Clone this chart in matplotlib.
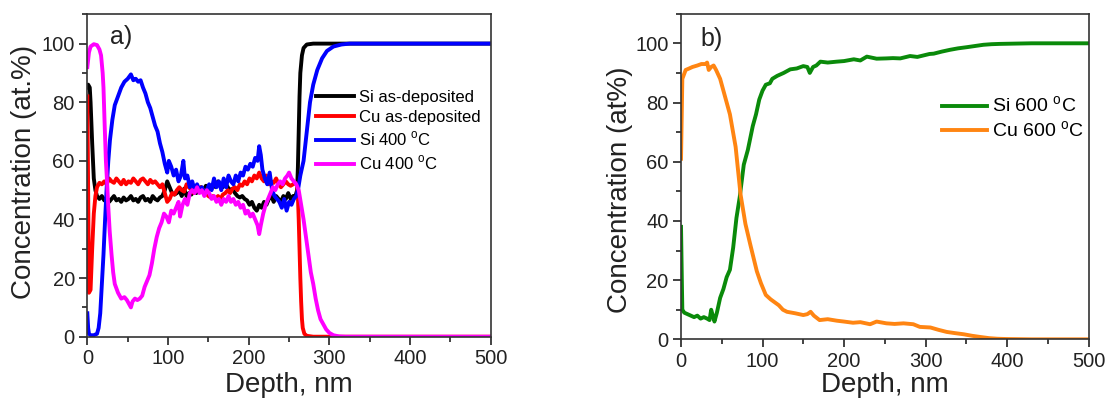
import matplotlib
matplotlib.use("Agg")
import matplotlib.pyplot as plt
from matplotlib.ticker import MultipleLocator

plt.rcParams['font.family'] = ['Liberation Sans', 'DejaVu Sans']
plt.rcParams['mathtext.fontset'] = 'custom'
plt.rcParams['mathtext.rm'] = 'Liberation Sans'

# ---------------- Panel a data ----------------
si_asdep_x = [0, 1, 3, 4, 5, 6, 7, 8, 10, 12, 15, 18, 21, 24, 27, 30, 33, 36, 39, 42, 45, 48, 51, 54, 57,
              60, 63, 66, 69, 72, 75, 78, 81, 84, 87, 90, 93, 96, 99, 102, 105, 108, 111, 114, 117, 120,
              123, 126, 129, 132, 135, 138, 141, 144, 147, 150, 153, 156, 159, 162, 165, 168, 171, 174,
              177, 180, 183, 186, 189, 192, 195, 198, 201, 204, 207, 210, 213, 216, 219, 222, 225, 228,
              231, 234, 237, 240, 243, 246, 249, 252, 255, 258, 260, 261, 262, 263, 264, 266, 268, 272,
              280, 300, 400, 500]
si_asdep_y = [85, 86, 85, 80, 73, 66, 60, 54, 50, 48, 47, 48, 46.5, 47.5, 46, 47, 48, 46.5, 47, 46, 47.5,
              46.5, 47, 48, 46.5, 47, 46, 47.5, 48, 46.5, 47, 46, 48, 47, 46.5, 47.5, 48, 50, 53, 51, 49,
              48.5, 49, 50, 48, 50.5, 48, 49, 48.5, 50, 49, 50, 51, 50, 51.5, 50, 51, 52, 51, 53, 52, 51,
              52.5, 51, 50, 50.5, 49, 48, 47.5, 48, 47, 46.5, 45, 46, 44, 43, 45, 44, 46, 45, 47, 48, 46,
              48, 47, 46, 48, 47, 49, 47, 48, 48, 50, 58, 70, 82, 90, 96, 98.5, 99.7, 100, 100, 100, 100]

cu_asdep_x = [0, 1, 2, 4, 6, 8, 10, 12, 15, 18, 21, 24, 27, 30, 33, 36, 39, 42, 45, 48, 51, 54, 57, 60,
              63, 66, 69, 72, 75, 78, 81, 84, 87, 90, 93, 96, 99, 102, 105, 108, 111, 114, 117, 120, 123,
              126, 129, 132, 135, 138, 141, 144, 147, 150, 153, 156, 159, 162, 165, 168, 171, 174, 177,
              180, 183, 186, 189, 192, 195, 198, 201, 204, 207, 210, 213, 216, 219, 222, 225, 228, 231,
              234, 237, 240, 243, 246, 249, 252, 255, 258, 260, 261, 262, 263, 264, 265, 266, 267, 269,
              272, 280, 300, 400, 500]
cu_asdep_y = [82, 50, 15, 16, 30, 42, 48, 51, 52.5, 52, 53, 52, 54, 53, 52.5, 54, 53, 52, 53.5, 52, 53,
              52.5, 54, 53, 52, 53.5, 54, 53, 52, 53.5, 52.5, 53, 52, 51, 52, 49, 46, 47, 49, 48.5, 50,
              51, 50, 49.5, 52, 51, 50, 49, 50.5, 50, 51, 50, 49, 48, 47.5, 48, 47, 48, 47, 48.5, 49,
              50, 49, 50.5, 51, 50, 52, 51.5, 53, 52, 54, 53, 55, 54, 56, 54, 53, 55, 52, 53, 52.5, 54,
              52, 51, 52, 53, 52, 51.5, 52, 52.5, 52, 48, 40, 30, 20, 12, 6, 3, 1, 0.3, 0, 0, 0, 0]

si_400_x = [0, 1, 2, 4, 8, 12, 14, 16, 18, 20, 22, 24, 26, 28, 31, 34, 38, 42, 46, 50, 54, 57, 60, 63,
            66, 69, 72, 75, 78, 81, 84, 87, 90, 93, 96, 99, 101, 104, 107, 110, 113, 116, 119, 121, 124,
            127, 130, 133, 136, 139, 142, 145, 148, 151, 154, 157, 160, 163, 166, 169, 172, 175, 178,
            181, 184, 187, 190, 193, 196, 199, 202, 205, 208, 211, 213, 215, 217, 220, 223, 226, 229,
            232, 235, 238, 241, 244, 247, 250, 253, 256, 259, 261, 264, 268, 272, 276, 280, 285, 291,
            297, 305, 315, 325, 400, 500]
si_400_y = [8, 3, 1, 0.5, 0.5, 1, 3, 8, 18, 28, 40, 51, 60, 67, 74, 79, 82, 85, 87, 88, 89.5, 87.5, 88,
            87, 87.5, 85, 83, 80, 78, 75, 72, 70, 66, 63, 59, 56, 60, 58, 55, 57, 53, 55, 60, 54, 55, 51,
            53, 50, 52, 50, 51, 49, 50, 52, 50, 54, 51, 53, 50, 54, 51, 55, 53, 52, 55, 53, 56, 55, 58,
            57, 59, 58, 61, 60, 65, 62, 57, 54, 52, 56, 50, 48, 47, 46, 44, 47, 43, 46, 45, 47, 48, 50,
            55, 60, 70, 80, 86, 91, 95, 97.5, 99, 99.7, 100, 100, 100]

cu_400_x = [0, 2, 4, 8, 12, 15, 17, 19, 20, 21.5, 23, 24.8, 26, 27.7, 30, 32, 34, 38, 42, 46, 49, 52,
            54, 56, 59, 62, 65, 68, 71, 74, 77, 80, 83, 86, 89, 92, 95, 98, 101, 104, 107, 110, 113,
            115, 118, 121, 124, 127, 130, 133, 136, 139, 142, 145, 148, 151, 154, 157, 160, 163, 166,
            169, 172, 175, 178, 181, 184, 187, 190, 193, 196, 199, 202, 205, 208, 211, 213, 215, 218,
            221, 224, 227, 230, 233, 236, 239, 242, 245, 248, 250, 253, 256, 259, 262, 265, 268, 271,
            274, 277, 280, 283, 286, 289, 292, 296, 300, 305, 312, 320, 400, 500]
cu_400_y = [92, 97, 99, 99.8, 99.5, 98, 96, 90, 85, 72, 60, 51, 44, 36, 28, 22, 18, 15, 13, 13.5, 12.5,
            11, 10, 12, 13, 12.5, 13, 14, 17, 19, 21, 25, 30, 34, 37, 39, 42, 41, 39, 43, 42, 44, 46,
            41, 45, 47, 45, 49, 50, 49, 51, 49, 50, 48, 50, 49, 47, 48, 46, 47, 45, 47, 46, 48, 46, 47,
            45, 46, 44, 45, 42, 43, 41, 42, 40, 38, 35, 38, 42, 45, 47, 49, 51, 50, 52, 53, 52, 54, 55,
            56, 54, 53, 52, 50, 45, 40, 34, 28, 22, 18, 13, 9, 6, 4.5, 2.5, 1.3, 0.5, 0.1, 0, 0, 0]

# ---------------- Panel b data ----------------
si_600_x = [0, 1, 1.6, 4, 8, 12, 16, 20, 24, 28, 32, 35, 37, 39, 41, 44, 48, 52, 56, 60, 64, 68, 72, 77,
            82, 88, 92, 96, 100, 104, 109, 112, 118, 126, 134, 142, 150, 155, 158, 162, 166, 171, 180,
            191, 200, 212, 220, 228, 240, 252, 260, 269, 281, 290, 305, 310, 320, 330, 340, 351, 361,
            371, 381, 391, 410, 430, 473, 500]
si_600_y = [38, 20, 10, 9, 8.5, 8, 7.5, 8, 7, 7.5, 7, 6.5, 10, 8, 6, 9, 14, 17, 21, 23.5, 31, 41, 48,
            59, 64, 72, 76, 81, 84, 86, 86.5, 88, 89, 90, 91.2, 91.5, 92.3, 92, 90, 92, 92.5, 93.8, 93.5,
            93.8, 94, 94.6, 94.2, 95.5, 94.8, 94.9, 95, 94.9, 95.7, 95.4, 96.4, 96.5, 97.2, 97.8, 98.3,
            98.7, 99.1, 99.5, 99.7, 99.8, 99.9, 100, 100, 100]

cu_600_x = [0, 1.6, 5.7, 10, 14, 20, 25, 30, 32, 34, 37, 40, 43, 48, 54, 60, 67, 73, 79, 85, 93, 98,
            104, 110, 115, 120, 125, 130, 140, 150, 155, 159, 163, 170, 180, 191, 200, 211, 220, 232,
            240, 252, 262, 273, 285, 293, 306, 316, 326, 336, 347, 357, 367, 378, 388, 400, 430, 500]
cu_600_y = [61, 88, 91, 91.5, 92, 92.5, 93, 93, 93.5, 91, 92, 92.5, 91, 88, 82, 76, 65, 49, 39, 32, 23,
            19, 15, 13.5, 12.5, 11.5, 10, 9.3, 8.8, 8.2, 8.5, 9.3, 8, 6.5, 6.8, 6.3, 6, 5.6, 5.8, 5.1,
            6, 5.4, 5.2, 5.4, 5.1, 4.2, 4, 3.2, 2.5, 2.1, 1.7, 1.2, 0.8, 0.4, 0.2, 0.1, 0, 0]

fig = plt.figure(figsize=(11.07, 4.03), dpi=100)
ax1 = fig.add_axes([0.0789, 0.1645, 0.3644, 0.800])
ax2 = fig.add_axes([0.6152, 0.158, 0.3681, 0.808])

lw = 2.8
deg = r'$^{\mathregular{o}}$C'
ax1.plot(si_asdep_x, si_asdep_y, color='black', lw=lw, label='Si as-deposited')
ax1.plot(cu_asdep_x, cu_asdep_y, color='#ff0000', lw=lw, label='Cu as-deposited')
ax1.plot(si_400_x, si_400_y, color='#0000ff', lw=lw, label='Si 400 ' + deg)
ax1.plot(cu_400_x, cu_400_y, color='#ff00ff', lw=lw, label='Cu 400 ' + deg)

ax2.plot(si_600_x, si_600_y, color='#0a8a0a', lw=lw, label='Si 600 ' + deg)
ax2.plot(cu_600_x, cu_600_y, color='#ff8512', lw=lw, label='Cu 600 ' + deg)

for ax in (ax1, ax2):
    ax.set_xlim(0, 500)
    ax.set_ylim(0, 110)
    ax.xaxis.set_major_locator(MultipleLocator(100))
    ax.xaxis.set_minor_locator(MultipleLocator(50))
    ax.yaxis.set_major_locator(MultipleLocator(20))
    ax.yaxis.set_minor_locator(MultipleLocator(10))
    ax.tick_params(which='major', direction='out', length=6, width=1.2, labelsize=14.5, pad=3,
                   top=False, right=False, colors='#222222', labelcolor='#222222')
    ax.tick_params(which='minor', direction='out', length=3.5, width=1.2, top=False, right=False,
                   colors='#222222')
    for s in ax.spines.values():
        s.set_linewidth(1.2)
        s.set_color('#333333')
    ax.set_xlabel('Depth, nm', fontsize=20, color='#222222')

ax1.set_ylabel('Concentration (at.%)', fontsize=20, color='#222222')
ax2.set_ylabel('Concentration (at%)', fontsize=20, color='#222222')
ax1.yaxis.set_label_coords(-0.125, 0.51)
ax2.yaxis.set_label_coords(-0.118, 0.46)
ax1.xaxis.set_label_coords(0.5, -0.109)
ax2.xaxis.set_label_coords(0.5, -0.100)

ax1.text(0.056, 0.967, 'a)', transform=ax1.transAxes, fontsize=18, va='top', ha='left', color='#222222')
ax2.text(0.047, 0.959, 'b)', transform=ax2.transAxes, fontsize=18, va='top', ha='left', color='#222222')

ax1.legend(loc='upper left', bbox_to_anchor=(0.567, 0.765), frameon=False, fontsize=12,
           handlelength=2.3, handletextpad=0.3, labelspacing=0.3, borderpad=0, borderaxespad=0)
ax2.legend(loc='upper left', bbox_to_anchor=(0.640, 0.748), frameon=False, fontsize=14,
           handlelength=2.3, handletextpad=0.3, labelspacing=0.2, borderpad=0, borderaxespad=0)

fig.savefig('out.png', dpi=100)
